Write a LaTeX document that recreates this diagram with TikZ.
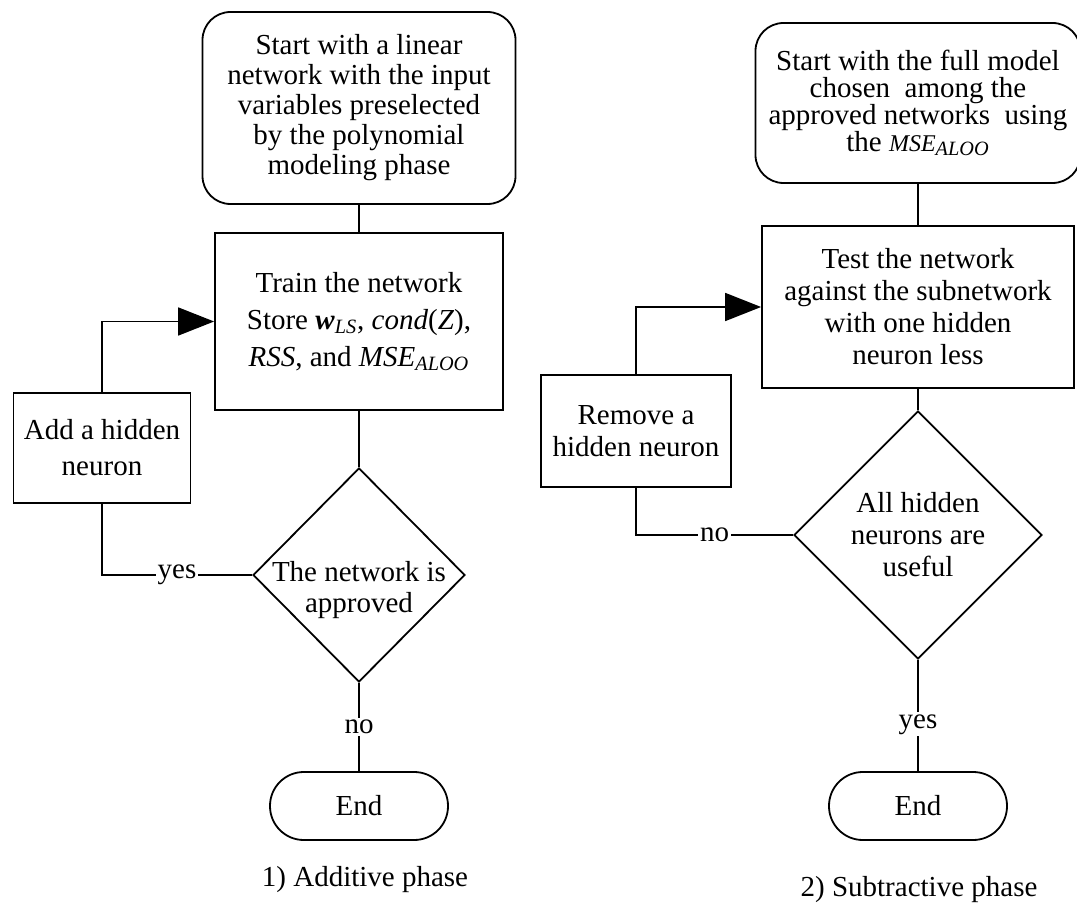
\documentclass[tikz,border=0pt]{standalone}
\usepackage{fontspec}
\setmainfont{Liberation Serif}
\usepackage{tikz}
\usetikzlibrary{shapes.geometric}
\usetikzlibrary{arrows.meta}

% text size with a chosen line distance
\newcommand{\chartfont}[1]{\fontsize{14.5}{#1}\selectfont}

\begin{document}
\begin{tikzpicture}[x=0.5pt, y=-0.5pt, line width=0.9pt]
		
		\tikzset{
			box/.style={draw, align=center, inner sep=2pt, font=\chartfont{15}},
			startbox/.style={box, rounded corners=14pt},
			endbox/.style={box, rounded corners=16.9pt, minimum width=89pt, minimum height=34pt},
			decision/.style={draw, diamond, inner sep=0pt},
			txt/.style={align=center, inner sep=0pt, font=\chartfont{15}},
			lbl/.style={fill=white, inner sep=1pt, font=\chartfont{15}},
			flowarrow/.style={-{Triangle[length=18pt, width=14pt]}}
		}
		
		\useasboundingbox (0,0) rectangle (1077,909);
		
		% --- 1) additive phase ---
		\node[startbox, minimum width=156.5pt, minimum height=96pt] (start1) at (359,108)
			{Start with a linear\\ network with the input\\ variables preselected\\ by the polynomial\\ modeling phase};
		\node[box, font=\chartfont{18.5}, minimum width=144pt, minimum height=88.5pt] (train1) at (359,321.5)
			{Train the network\\ Store \textbf{\textit{w}}\textsubscript{\textit{LS}}, \textit{cond}(\textit{Z}),\\ \textit{RSS}, and \textit{MSE}\textsubscript{\textit{ALOO}}};
		\node[decision, minimum width=106pt, minimum height=107pt] (dia1) at (359,575) {};
		\node[txt, font=\chartfont{15.5}] (dia1txt) at (359,590) {The network is\\ approved};
		\node[endbox] (end1) at (359,806) {End};
		\node[box, font=\chartfont{18}, minimum width=88.5pt, minimum height=55pt] (add1) at (102,448)
			{Add a hidden\\ neuron};
		\node[txt] (cap1) at (365,880) {1) Additive phase};
		
		\draw (start1) -- (train1);
		\draw (train1) -- (dia1);
		\draw (dia1) -- node[lbl] {no} (end1);
		\draw[flowarrow] (add1.north) |- (train1.west);
		\draw (add1.south) |- node[lbl, pos=0.75] {yes} (dia1.west);
		
		% --- 2) subtractive phase ---
		\node[startbox, font=\chartfont{13.5}, minimum width=162.5pt, minimum height=80pt] (start2) at (918,103)
			{Start with the full model\\ chosen\ \ among the\\ approved networks\ \ using\\ the {\fontsize{12}{13.5}\selectfont\textit{MSE}}\textsubscript{\textit{ALOO}}};
		\node[box, font=\chartfont{16}, minimum width=156pt, minimum height=81pt] (test2) at (918,307)
			{Test the network\\ against the subnetwork\\ with one hidden\\ neuron less};
		\node[decision, font=\chartfont{16}, align=center, minimum width=124pt, minimum height=124pt] (dia2) at (918,535)
			{All hidden\\ neurons are\\ useful};
		\node[endbox] (end2) at (918,806) {End};
		\node[box, font=\chartfont{16}, minimum width=95pt, minimum height=56pt] (rem2) at (636,431)
			{Remove a\\ hidden neuron};
		\node[txt] (cap2) at (919,890) {2) Subtractive phase};
		
		\draw (start2) -- (test2);
		\draw (test2) -- (dia2);
		\draw (dia2) -- node[lbl, pos=0.58] {yes} (end2);
		\draw[flowarrow] (rem2.north) |- (test2.west);
		\draw (rem2.south) |- node[lbl, pos=0.75] {no} (dia2.west);
		
	\end{tikzpicture}
\end{document}
